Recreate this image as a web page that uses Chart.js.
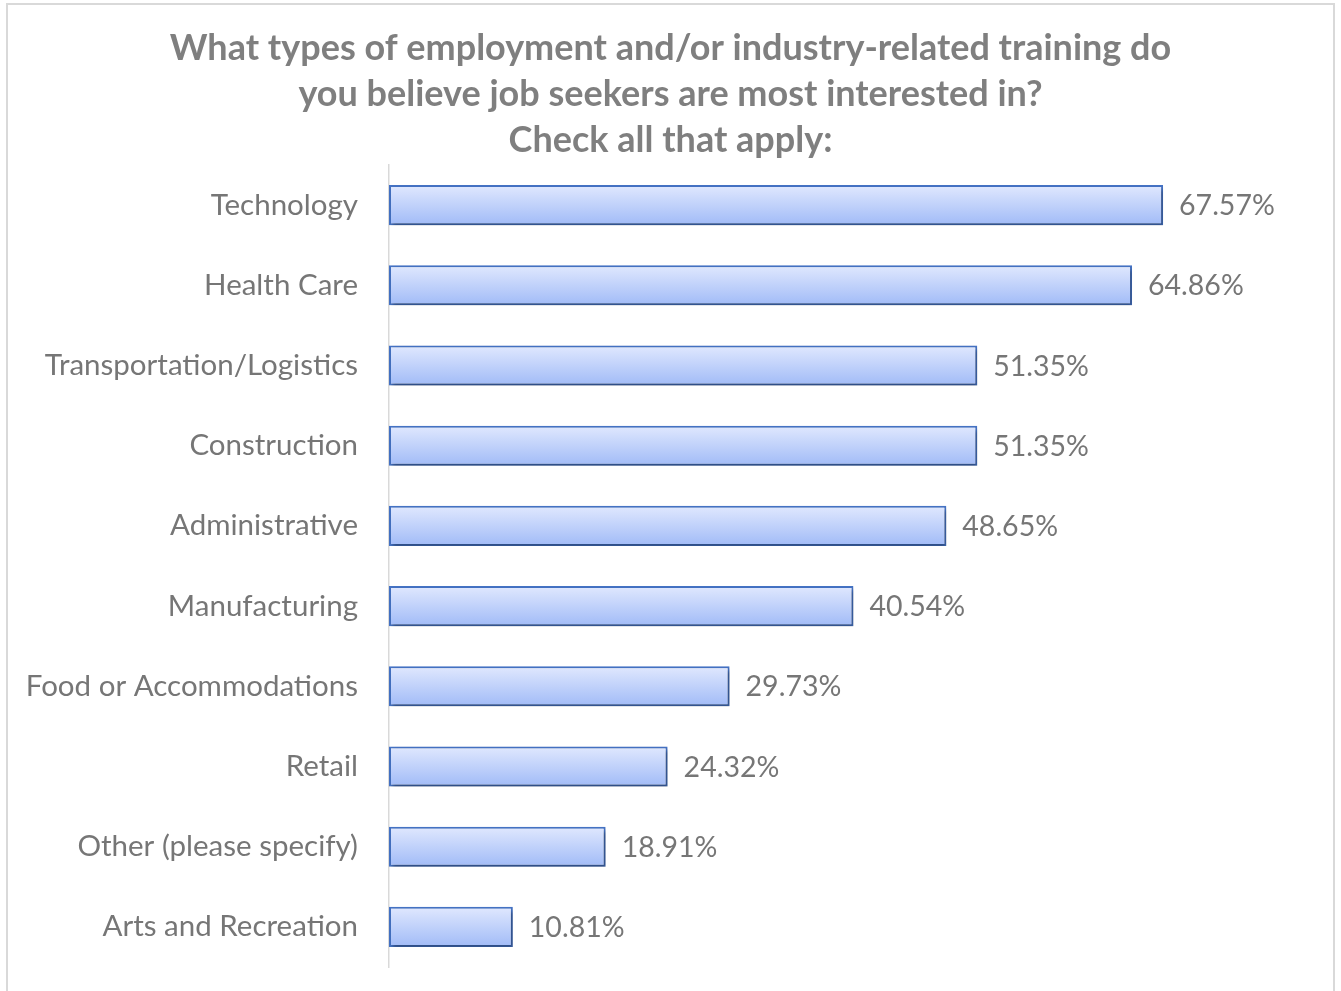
<!DOCTYPE html>
<html>
<head>
<meta charset="utf-8">
<script src="https://cdn.jsdelivr.net/npm/chart.js@4/dist/chart.umd.min.js"></script>
<style>
    body { margin: 0; background: #fff; overflow: hidden; }
    /* 外框 */
    .frame {
        position: absolute;
        left: 6px; top: 3px;
        width: 1325px; height: 1000px;
        border: 2px solid #d9d9d9;
    }
    .chart-container {
        position: absolute;
        left: 0; top: 0;
        width: 1341px; height: 991px;
    }
</style>
</head>
<body>
<div class="frame"></div>
<div class="chart-container">
    <canvas id="trainingChart"></canvas>
</div>
<script>
    const categories = ['Technology', 'Health Care', 'Transportation/Logistics', 'Construction',
        'Administrative', 'Manufacturing', 'Food or Accommodations', 'Retail',
        'Other (please specify)', 'Arts and Recreation'];
    const percentages = [67.57, 64.86, 51.35, 51.35, 48.65, 40.54, 29.73, 24.32, 18.91, 10.81];
    const titleLines = ['What types of employment and/or industry-related training do',
        'you believe job seekers are most interested in?',
        'Check all that apply:'];

    const textGrey = '#767676';
    const fontName = 'Lato, Carlito, Calibri, sans-serif';

    // bar shadow
    const shadowPlugin = {
        id: 'barShadow',
        beforeDatasetsDraw(chart) {
            const ctx = chart.ctx;
            ctx.save();
            ctx.shadowColor = 'rgba(0,0,0,0.35)';
            ctx.shadowBlur = 4;
            ctx.shadowOffsetX = 2;
            ctx.shadowOffsetY = 3;
        },
        afterDatasetsDraw(chart) {
            chart.ctx.restore();
        }
    };

    // value labels at the end of bars
    const valueLabels = {
        id: 'valueLabels',
        afterDraw(chart) {
            const ctx = chart.ctx;
            const meta = chart.getDatasetMeta(0);
            ctx.save();
            ctx.font = '28.5px ' + fontName;
            ctx.fillStyle = textGrey;
            ctx.textAlign = 'left';
            ctx.textBaseline = 'middle';
            meta.data.forEach((bar, i) => {
                ctx.fillText(percentages[i].toFixed(2) + '%', bar.x + 16, bar.y + 1);
            });
            ctx.restore();
        }
    };

    const ctx = document.getElementById('trainingChart').getContext('2d');
    window.myTrainingChart = new Chart(ctx, {
        type: 'bar',
        data: {
            labels: categories,
            datasets: [{
                data: percentages,
                backgroundColor(c) {
                    const y = c.chart.scales.y;
                    const mid = y ? y.getPixelForValue(c.dataIndex) : NaN;
                    if (!isFinite(mid)) return '#c3d3fb';
                    const g = c.chart.ctx.createLinearGradient(0, mid - 20, 0, mid + 20);
                    g.addColorStop(0, '#e0e8fe');
                    g.addColorStop(1, '#a1bbf7');
                    return g;
                },
                borderColor: '#4472c4',
                borderWidth: 2,
                borderSkipped: false,
                barPercentage: 0.5,
                categoryPercentage: 1
            }]
        },
        options: {
            indexAxis: 'y',
            responsive: true,
            maintainAspectRatio: false,
            animation: false,
            layout: { padding: { left: 0, right: 0, top: 0, bottom: 24 } },
            plugins: {
                legend: { display: false },
                tooltip: { enabled: false },
                title: {
                    display: true,
                    text: titleLines,
                    color: '#7f7f7f',
                    font: { family: fontName, size: 36, weight: 'bold', lineHeight: 46 / 36 },
                    padding: { top: 25, bottom: 2 }
                }
            },
            scales: {
                x: { display: false, min: 0, max: 83.1 },
                y: {
                    afterFit(scale) {
                        scale.width = 389;
                        scale.paddingTop = 0;
                        scale.paddingBottom = 0;
                    },
                    grid: { display: false, drawTicks: false },
                    border: { display: true, color: '#d9d9d9', width: 1.5 },
                    ticks: {
                        color: textGrey,
                        padding: 31,
                        font: { family: fontName, size: 29.5 }
                    }
                }
            }
        },
        plugins: [shadowPlugin, valueLabels]
    });
</script>
</body>
</html>
